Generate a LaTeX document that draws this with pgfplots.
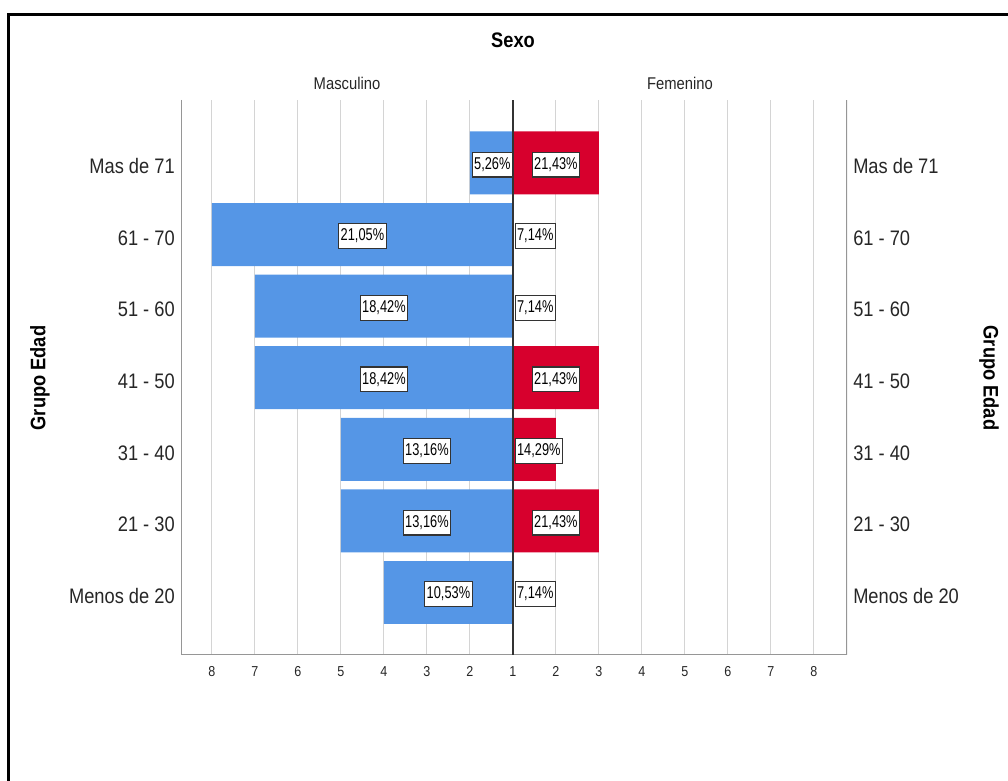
\documentclass[border=0pt]{standalone}
\usepackage{fontspec}
\setmainfont{Liberation Sans}[FakeStretch=0.87]
\newfontfamily\labfont{Liberation Sans}[FakeStretch=0.75]
\usepackage{pgfplots}
\pgfplotsset{compat=1.18}
\definecolor{barblue}{RGB}{85,150,230}
\definecolor{barred}{RGB}{215,0,45}
\definecolor{gridgray}{RGB}{212,212,212}
\definecolor{axgray}{RGB}{150,150,150}
\tikzset{
  lab/.style={draw=black!80, fill=white, line width=0.9pt, inner xsep=1.5pt, inner ysep=3.4pt,
    text height=9.4pt, text depth=2.4pt, yshift=-1.2pt,
    font=\labfont\fontsize{12.8}{14}\selectfont, text=black},
}
\pgfplotsset{
  pyr/.style={
    at={(135.75pt,94.5pt)}, anchor=south west,
    scale only axis, width=499.5pt, height=416.25pt,
    xmin=-7.72, xmax=7.77, ymin=-0.873, ymax=6.88,
    axis line style={draw=none},
    major tick length=0pt,
    ytick={0,...,6},
    yticklabels={Menos de 20, 21 - 30, 31 - 40, 41 - 50, 51 - 60, 61 - 70, Mas de 71},
    y tick label style={font=\fontsize{15.75}{18}\selectfont, text=black!85, inner sep=0pt, yshift=-2.6pt},
    yticklabel shift=4.5pt,
    /pgf/number format/assume math mode=true,
  },
}
\begin{document}
\begin{tikzpicture}
\path[use as bounding box] (0,0) rectangle (756pt,585.75pt);
\draw[line width=1.6pt] (6.4pt,-2pt) -- (6.4pt,574.9pt) -- (760pt,574.9pt);
\begin{axis}[pyr,
  xtick={-7,...,7},
  xticklabels={8,7,6,5,4,3,2,1,2,3,4,5,6,7,8},
  x tick label style={font=\fontsize{10.8}{12}\selectfont, text=black!85, inner sep=0pt},
  xticklabel shift=8.2pt,
  xmajorgrids, major grid style={gridgray, line width=0.75pt},
]
% Masculino (bars from the centre)
\addplot[xbar, bar width=0.88, bar shift=0pt, fill=barblue, draw=none] coordinates {
 (-3,0) (-4,1) (-4,2) (-6,3) (-6,4) (-7,5) (-1,6)};
% Femenino
\addplot[xbar, bar width=0.88, bar shift=0pt, fill=barred, draw=none] coordinates {
 (0,0) (2,1) (1,2) (2,3) (0,4) (0,5) (2,6)};
\draw[axgray, line width=0.8pt] (rel axis cs:0,1) -- (rel axis cs:0,0) -- (rel axis cs:1,0) -- (rel axis cs:1,1);
\draw[black!80, line width=1.2pt] (axis cs:0,-0.873) -- (axis cs:0,6.88);
% centred labels
\addplot[draw=none, mark=none, nodes near coords, point meta=explicit symbolic,
  every node near coord/.append style={lab, anchor=center}] coordinates {
 (-1.5,0) [10,53\%] (-2,1) [13,16\%] (-2,2) [13,16\%] (-3,3) [18,42\%]
 (-3,4) [18,42\%] (-3.5,5) [21,05\%] (-0.48,6) [5,26\%]
 (1,1) [21,43\%] (1,3) [21,43\%] (1,6) [21,43\%]};
% labels starting at the centre line
\addplot[draw=none, mark=none, nodes near coords, point meta=explicit symbolic,
  every node near coord/.append style={lab, anchor=west, xshift=1.2pt}] coordinates {
 (0,0) [7,14\%] (0,2) [14,29\%] (0,4) [7,14\%] (0,5) [7,14\%]};
\end{axis}
\begin{axis}[pyr, xtick=\empty, yticklabel pos=right]
\addplot[draw=none, mark=none] coordinates {(0,0) (0,6)};
\end{axis}
\begin{scope}[x=0.75pt, y=-0.75pt, yshift=585.75pt]
\node[font=\bfseries\fontsize{15.75}{18}\selectfont] at (513,40) {Sexo};
\node[font=\fontsize{12.75}{15}\selectfont, text=black!85] at (347,83) {Masculino};
\node[font=\fontsize{12.75}{15}\selectfont, text=black!85] at (680,83) {Femenino};
\node[rotate=90, font=\bfseries\fontsize{15.75}{18}\selectfont] at (40,378) {Grupo Edad};
\node[rotate=-90, font=\bfseries\fontsize{15.75}{18}\selectfont] at (989,378) {Grupo Edad};
\end{scope}
\end{tikzpicture}
\end{document}
